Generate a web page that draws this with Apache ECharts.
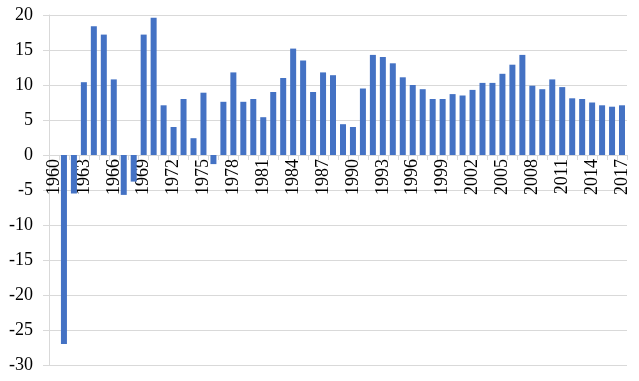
<!DOCTYPE html>
<html>
<head>
<meta charset="utf-8">
<script src="https://cdn.jsdelivr.net/npm/echarts@6/dist/echarts.min.js"></script>
<style>html,body{margin:0;padding:0;background:#fff;}#c{width:639px;height:381px;}</style>
</head>
<body>
<div id="c"></div>
<script>
var years = [];
for (var y = 1960; y <= 2017; y++) years.push(String(y));
var values = [null,
  -27.0, -5.5, 10.4, 18.4, 17.2, 10.8, -5.7, -3.8, 17.2, 19.6,
  7.1, 4.0, 8.0, 2.4, 8.9, -1.3, 7.6, 11.8, 7.6, 8.0,
  5.4, 9.0, 11.0, 15.2, 13.5, 9.0, 11.8, 11.4, 4.4, 4.0,
  9.5, 14.3, 14.0, 13.1, 11.1, 10.0, 9.4, 8.0, 8.0, 8.7,
  8.5, 9.3, 10.3, 10.3, 11.6, 12.9, 14.3, 9.9, 9.4, 10.8,
  9.7, 8.1, 8.0, 7.5, 7.1, 6.9, 7.1];
var yMin = -30, yMax = 20, yStep = 5;

var gridTop = 15, gridBottom = 16, H = 381;
var plotH = H - gridTop - gridBottom;
var zeroFromBottom = plotH * (0 - yMin) / (yMax - yMin);

var chart = echarts.init(document.getElementById('c'), null, {renderer: 'canvas'});
chart.setOption({
  animation: false,
  backgroundColor: '#ffffff',
  grid: {left: 49, right: 12, top: gridTop, bottom: gridBottom, containLabel: false},
  xAxis: {
    type: 'category',
    data: years,
    position: 'bottom',
    offset: -zeroFromBottom,
    z: 0,
    axisLine: {show: true, onZero: false, lineStyle: {color: '#d9d9d9', width: 1}},
    axisTick: {show: true, interval: 0, length: 5, lineStyle: {color: '#d9d9d9'}},
    axisLabel: {
      interval: 2, rotate: 90, margin: 4, padding: [6, 0, 0, 0],
      fontFamily: 'Liberation Serif', fontSize: 18, color: '#000'
    },
    splitLine: {show: false}
  },
  yAxis: {
    type: 'value',
    min: yMin, max: yMax, interval: yStep,
    axisLine: {show: true, lineStyle: {color: '#d9d9d9', width: 1}},
    axisTick: {show: true, length: 6, lineStyle: {color: '#d9d9d9'}},
    axisLabel: {margin: 16, fontFamily: 'Liberation Serif', fontSize: 18, color: '#000'},
    splitLine: {show: true, lineStyle: {color: '#d9d9d9', width: 1}}
  },
  series: [{
    type: 'bar',
    data: values,
    barWidth: 6,
    z: 5,
    itemStyle: {color: '#4472c4'}
  }]
});
</script>
</body>
</html>
